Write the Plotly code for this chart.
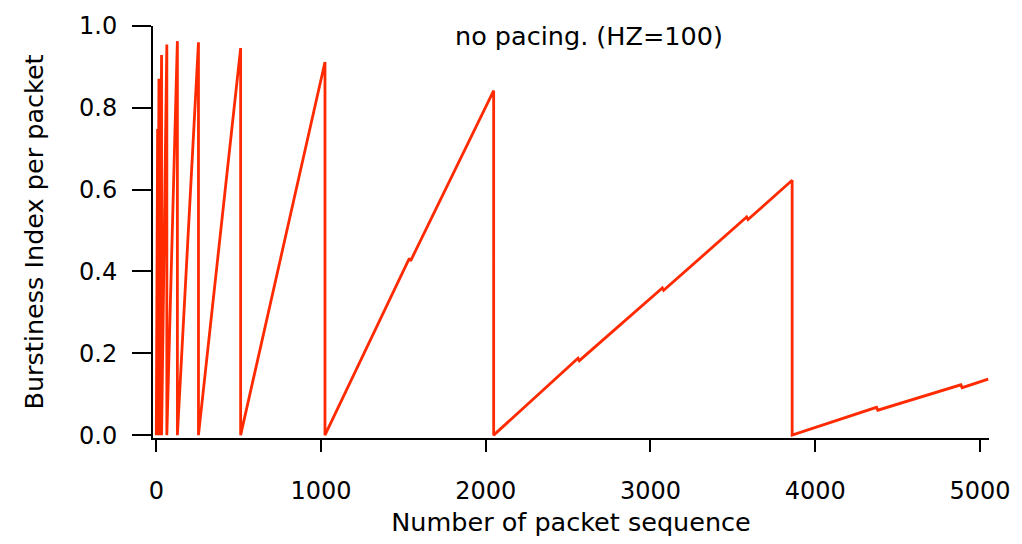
import plotly.graph_objects as go

# Packet sequence numbers (vertices of the sawtooth trace)
seq = [0, 4, 4, 8, 8, 16, 16, 32, 32, 64, 64, 128, 128, 256, 256, 512, 512,
       1024, 1024, 1536, 1544, 2048, 2048, 2560, 2568, 3072, 3080, 3584, 3592,
       3860, 3860, 4372, 4380, 4884, 4892, 5050]
# Burstiness index per packet
burst = [0, 0.5, 0, 0.748, 0, 0.871, 0, 0.929, 0, 0.955, 0, 0.963, 0, 0.96, 0,
         0.946, 0, 0.912, 0, 0.432, 0.426, 0.842, 0, 0.188, 0.182, 0.36, 0.354,
         0.533, 0.527, 0.623, 0, 0.068, 0.061, 0.123, 0.116, 0.137]

x_ticks = [0, 1000, 2000, 3000, 4000, 5000]
y_ticks = [0.0, 0.2, 0.4, 0.6, 0.8, 1.0]
y_tick_labels = ["0.0", "0.2", "0.4", "0.6", "0.8", "1.0"]

FONT = "DejaVu Sans"
FS = 24
FT = 25.5

fig = go.Figure()
fig.add_trace(go.Scatter(x=seq, y=burst, mode="lines",
                         line=dict(color="#FF2A00", width=2.8),
                         showlegend=False))

fig.update_layout(
    width=1022, height=544,
    margin=dict(l=153, r=30, t=22, b=105),
    plot_bgcolor="white", paper_bgcolor="white",
    font=dict(family=FONT, size=FS, color="black"),
    xaxis=dict(range=[-20, 5055], tickvals=x_ticks, ticks="outside",
               ticklen=12, tickwidth=2, tickcolor="black",
               showline=True, linewidth=2, linecolor="black",
               showgrid=False, zeroline=False,
               ticklabelstandoff=18, tickfont=dict(size=FS),
               title=dict(text="Number of packet sequence", standoff=9,
                          font=dict(size=FT))),
    yaxis=dict(range=[-0.007, 1.0], tickvals=y_ticks, ticktext=y_tick_labels,
               ticks="outside", ticklen=19, tickwidth=2, tickcolor="black",
               showline=True, linewidth=2, linecolor="black",
               showgrid=False, zeroline=False,
               ticklabelstandoff=10, tickfont=dict(size=FS),
               title=dict(text="Burstiness Index per packet", standoff=28,
                          font=dict(size=FT))),
    annotations=[dict(text="no pacing. (HZ=100)", xref="paper", yref="paper",
                      x=0.522, y=0.976, xanchor="center", yanchor="middle",
                      showarrow=False, font=dict(size=FT))],
)

fig.write_html("out.html")
